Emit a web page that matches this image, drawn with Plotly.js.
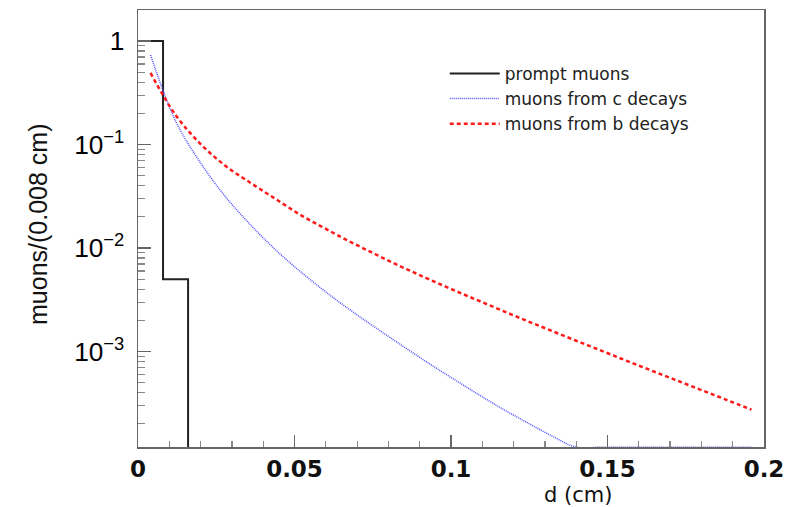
<!DOCTYPE html>
<html>
<head>
<meta charset="utf-8">
<script src="https://cdn.plot.ly/plotly-3.0.1.min.js"></script>
<style>
  html, body { margin: 0; padding: 0; background: #ffffff; }
  #chart { width: 794px; height: 507px; }
</style>
</head>
<body>
<div id="chart"></div>
<script>
// ---- data ----
// bin centres (bins of 0.008 cm)
var binCenters = [0.004, 0.012, 0.020, 0.028, 0.036, 0.044, 0.052, 0.060, 0.068, 0.076,
                  0.084, 0.092, 0.100, 0.108, 0.116, 0.124, 0.132, 0.140, 0.148, 0.156,
                  0.164, 0.172, 0.180, 0.188, 0.196];

// lower edge of the drawn y range (values below are drawn on it)
var FLOOR = 1.19e-4;

// prompt muons histogram (bin edges and contents)
var promptEdges  = [0, 0.008, 0.016];
var promptValues = [1, 0.005, FLOOR];

// muons from c decays
var cValues = [0.733, 0.1687, 0.0663, 0.0311, 0.01668, 0.00957, 0.00587, 0.00376, 0.00249, 0.00169,
               0.00116, 0.000800, 0.000561, 0.000397, 0.000284, 0.000208, 0.000154,
               FLOOR, FLOOR, FLOOR, FLOOR, FLOOR, FLOOR, FLOOR, FLOOR];

// muons from b decays
var bValues = [0.491, 0.193, 0.101, 0.0620, 0.0425, 0.0297, 0.0208, 0.0153, 0.0114, 0.00865,
               0.00662, 0.00513, 0.00402, 0.00317, 0.00251, 0.00199, 0.00159, 0.00127, 0.00102, 0.000815,
               0.000655, 0.000527, 0.000424, 0.000341, 0.000274];

var seriesNames = ['prompt muons', 'muons from c decays', 'muons from b decays'];

var traces = [
  {
    x: promptEdges, y: promptValues, name: seriesNames[0],
    type: 'scatter', mode: 'lines',
    line: {shape: 'hv', color: '#222222', width: 2}
  },
  {
    x: binCenters, y: cValues, name: seriesNames[1],
    type: 'scatter', mode: 'lines',
    line: {shape: 'spline', smoothing: 1, color: 'rgb(80,80,255)', width: 1.5, dash: '1px,1px'}
  },
  {
    x: binCenters, y: bValues, name: seriesNames[2],
    type: 'scatter', mode: 'lines',
    line: {shape: 'spline', smoothing: 1, color: '#ff1a1a', width: 2.5, dash: '4px,3px'}
  }
];

var axisCol = '#666666';
var layout = {
  width: 794, height: 507,
  margin: {l: 138, r: 30, t: 10, b: 60},
  paper_bgcolor: '#ffffff', plot_bgcolor: '#ffffff',
  showlegend: true,
  legend: {
    x: 0.49, y: 0.895, xanchor: 'left', yanchor: 'top',
    bgcolor: 'rgba(0,0,0,0)', borderwidth: 0,
    font: {family: 'DejaVu Sans', size: 17, color: '#222222'},
    itemwidth: 50,
    tracegroupgap: 0
  },
  xaxis: {
    range: [0, 0.2], tick0: 0, dtick: 0.05,
    ticks: 'inside', ticklen: 12, tickwidth: 1.5, tickcolor: axisCol,
    minor: {dtick: 0.01, ticks: 'inside', ticklen: 6, tickwidth: 1.2, tickcolor: '#888888', showgrid: false},
    showline: true, linecolor: axisCol, linewidth: 1.5, mirror: true,
    showgrid: false, zeroline: false,
    tickfont: {family: 'DejaVu Sans', size: 23, color: '#111111', weight: 'bold'},
    ticklabelstandoff: 1
  },
  yaxis: {
    type: 'log', range: [-3.923, 0.2995], dtick: 1,
    exponentformat: 'power',
    ticks: 'inside', ticklen: 13, tickwidth: 1.5, tickcolor: axisCol,
    minor: {dtick: 'D1', ticks: 'inside', ticklen: 7, tickwidth: 1.2, tickcolor: '#888888', showgrid: false},
    showline: true, linecolor: axisCol, linewidth: 1.5, mirror: true,
    showgrid: false, zeroline: false,
    tickfont: {family: 'Liberation Sans', size: 21, color: '#000000'},
    ticklabelstandoff: 8
  },
  annotations: [
    {
      text: 'muons/(0.008 cm)', textangle: -90,
      xref: 'paper', yref: 'paper',
      x: (38 - 138) / 626, y: (447 - 225) / 437,
      xanchor: 'center', yanchor: 'middle', showarrow: false,
      font: {family: 'Liberation Sans', size: 25, color: '#111111'}
    },
    {
      text: 'd (cm)',
      xref: 'paper', yref: 'paper',
      x: (578 - 138) / 626, y: (447 - 495) / 437,
      xanchor: 'center', yanchor: 'middle', showarrow: false,
      font: {family: 'DejaVu Sans', size: 21, color: '#111111'}
    }
  ]
};

Plotly.newPlot('chart', traces, layout, {displayModeBar: false, staticPlot: true});
</script>
</body>
</html>
